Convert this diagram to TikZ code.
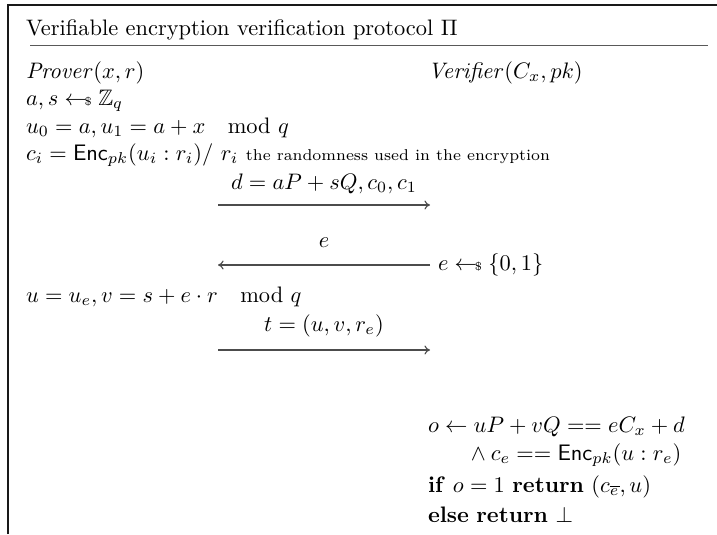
\documentclass[tikz,border=0pt]{standalone}
\usepackage{amsmath,amssymb}
\usetikzlibrary{arrows.meta}
% random sampling arrow with a small dollar sign at its tail
\newcommand{\sampleop}{\mathrel{\leftarrow\mkern-7mu{\scriptscriptstyle\$}}}
\begin{document}
\begin{tikzpicture}[x=0.4463pt,y=-0.4463pt,
  txt/.style={anchor=base west, inner sep=0pt, outer sep=0pt},
  lbl/.style={anchor=base, inner sep=0pt, outer sep=0pt},
  msg/.style={draw=black!70, line width=0.5pt, -{To[length=2.5pt,width=4pt]}},
  frame/.style={line width=0.7pt, draw=black!90},
  rulestyle/.style={line width=0.45pt, draw=black!65}]
\useasboundingbox (0,0) rectangle (717,534);

% frame and title
\draw[frame] (8,534) -- (8,5) -- (717,5);
\node[txt] (title) at (26,35) {Verifiable encryption verification protocol $\Pi$};
\draw[rulestyle] (30,45) -- (708,45);

% parties
\node[txt] (prover) at (26,78) {$\mathit{Prover}(x,r)$};
\node[txt] (verifier) at (428,78) {$\mathit{Verifier}(C_x,pk)$};

% prover's first steps
\node[txt] (p1) at (26,105) {$a,s \sampleop \mathbb{Z}_q$};
\node[txt] (p2) at (26,133) {$u_0 = a, u_1 = a + x \quad \mathrm{mod}\,\, q$};
\node[txt] (p3) at (26,160) {$c_i = \mathsf{Enc}_{pk}(u_i : r_i)\mathsf{/}\ r_i$ {\scriptsize the randomness used in the encryption}};

% message 1: commitment
\coordinate (m1l) at (218,205);
\coordinate (m1r) at (430,205);
\node[lbl] (m1lbl) at (324,189) {$d = aP + sQ, c_0, c_1$};
\draw[msg] (m1l) -- (m1r);

% message 2: challenge
\coordinate (m2l) at (218,265);
\coordinate (m2r) at (430,265);
\node[lbl] (m2lbl) at (324,247) {$e$};
\draw[msg] (m2r) -- (m2l);
\node[txt] (v1) at (438,270) {$e \sampleop \{0,1\}$};

% prover's response
\node[txt] (p4) at (26,302) {$u = u_e, v = s + e\cdot r \quad \mathrm{mod}\,\, q$};

% message 3: response
\coordinate (m3l) at (218,350);
\coordinate (m3r) at (430,350);
\node[lbl] (m3lbl) at (324,331) {$t = (u,v,r_e)$};
\draw[msg] (m3l) -- (m3r);

% verifier's checks
\node[txt] (v2) at (428,432) {$o \leftarrow uP + vQ == eC_x + d$};
\node[txt] (v3) at (466,460) {${}\wedge c_e == \mathsf{Enc}_{pk}(u : r_e)$};
\node[txt] (v4) at (428,492) {$\mathbf{if}\ o = 1\ \mathbf{return}\ (c_{\overline{e}}, u)$};
\node[txt] (v5) at (428,522) {$\mathbf{else\ return}\ \bot$};
\end{tikzpicture}
\end{document}
